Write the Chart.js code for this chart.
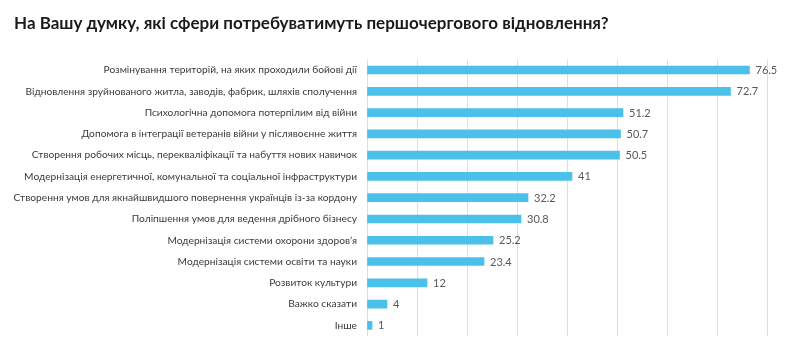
<!DOCTYPE html>
<html>
<head>
<meta charset="utf-8">
<script src="https://cdn.jsdelivr.net/npm/chart.js@4.4.1/dist/chart.umd.min.js"></script>
<style>
html,body{margin:0;padding:0;background:#fff;}
#wrap{width:800px;height:357px;position:relative;}
</style>
</head>
<body>
<div id="wrap"><canvas id="c" width="800" height="357"></canvas></div>
<script>
const titleText = "На Вашу думку, які сфери потребуватимуть першочергового відновлення?";
const categories = [
  "Розмінування територій, на яких проходили бойові дії",
  "Відновлення зруйнованого житла, заводів, фабрик, шляхів сполучення",
  "Психологічна допомога потерпілим від війни",
  "Допомога в інтеграції ветеранів війни у післявоєнне життя",
  "Створення робочих місць, перекваліфікації та набуття нових навичок",
  "Модернізація енергетичної, комунальної та соціальної інфраструктури",
  "Створення умов для якнайшвидшого повернення українців із-за кордону",
  "Поліпшення умов для ведення дрібного бізнесу",
  "Модернізація системи охорони здоров’я",
  "Модернізація системи освіти та науки",
  "Розвиток культури",
  "Важко сказати",
  "Інше"
];
const values = [76.5, 72.7, 51.2, 50.7, 50.5, 41, 32.2, 30.8, 25.2, 23.4, 12, 4, 1];
const valueLabels = ["76.5","72.7","51.2","50.7","50.5","41","32.2","30.8","25.2","23.4","12","4","1"];
const xMin = 0, xMax = 80, xStep = 10;

const FONT = "Lato, 'Open Sans', sans-serif";

const valuePlugin = {
  id: 'valueLabels',
  afterDatasetsDraw(chart) {
    const ctx = chart.ctx;
    const meta = chart.getDatasetMeta(0);
    ctx.save();
    ctx.font = "11px " + FONT;
    ctx.fillStyle = "#595959";
    ctx.textAlign = "left";
    ctx.textBaseline = "middle";
    meta.data.forEach((bar, i) => {
      ctx.fillText(valueLabels[i], bar.x + 6, bar.y + 0.5);
    });
    ctx.restore();
  }
};

new Chart(document.getElementById('c'), {
  type: 'bar',
  data: {
    labels: categories,
    datasets: [{
      data: values,
      backgroundColor: '#4BC0EA',
      borderWidth: 0,
      barThickness: 8
    }]
  },
  options: {
    indexAxis: 'y',
    responsive: false,
    animation: false,
    devicePixelRatio: 1,
    layout: { padding: { left: 14, right: 33, top: 0, bottom: 21 } },
    plugins: {
      legend: { display: false },
      tooltip: { enabled: false },
      title: {
        display: true,
        text: titleText,
        align: 'start',
        color: '#1a1a1a',
        font: { family: FONT, size: 17, weight: 'bold' },
        padding: { top: 13, bottom: 26 }
      }
    },
    scales: {
      x: {
        min: xMin, max: xMax,
        ticks: { display: false, stepSize: xStep },
        grid: { color: '#dedede', lineWidth: 1, drawTicks: false },
        border: { display: false }
      },
      y: {
        ticks: {
          color: '#3a3a3a',
          font: { family: FONT, size: 10.2 },
          padding: 10
        },
        grid: { display: false, drawTicks: false },
        border: { display: false },
        afterFit(scale) { scale.width = 353; }
      }
    }
  },
  plugins: [valuePlugin]
});
</script>
</body>
</html>
